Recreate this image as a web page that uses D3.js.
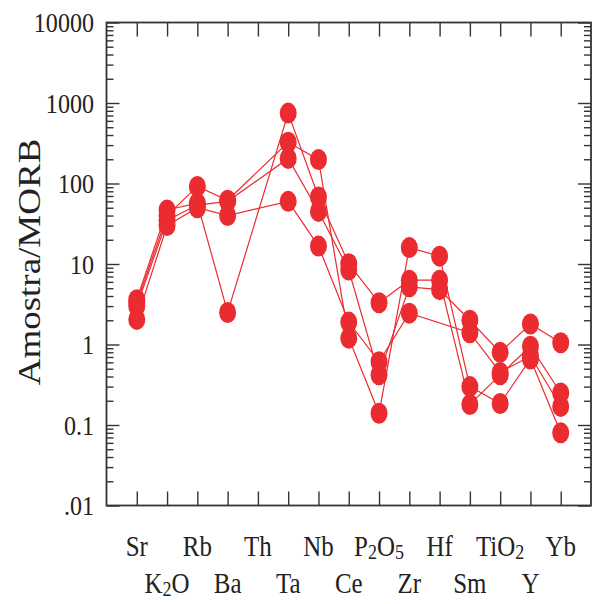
<!DOCTYPE html>
<html>
<head>
<meta charset="utf-8">
<script src="https://cdn.jsdelivr.net/npm/d3@7"></script>
<style>
  body { margin: 0; background: #fff; }
  svg text { font-family: "Liberation Serif", "Times New Roman", serif; fill: #222; }
</style>
</head>
<body>
<svg id="chart" width="601" height="604"></svg>
<script>
// elements (x categories) and their printed labels; [text, subscript] pairs
var elements = ["Sr","K2O","Rb","Ba","Th","Ta","Nb","Ce","P2O5","Zr","Hf","Sm","TiO2","Y","Yb"];
var elementLabels = [
  [["Sr",""]], [["K","2"],["O",""]], [["Rb",""]], [["Ba",""]], [["Th",""]], [["Ta",""]],
  [["Nb",""]], [["Ce",""]], [["P","2"],["O","5"]], [["Zr",""]], [["Hf",""]], [["Sm",""]],
  [["TiO","2"]], [["Y",""]], [["Yb",""]]
];
var yTicks = [0.01, 0.1, 1, 10, 100, 1000, 10000];
var yTickLabels = [".01", "0.1", "1", "10", "100", "1000", "10000"];

// sample / MORB ratios, null = not analysed
var sampleA = [3.6, 47, 57, 2.5, null, 750, 68, 10.1, 3.3, 6.3, 6.3, 0.18, 0.42, 0.95, 0.25];
var sampleB = [3.3, 40, 92, 62, null, 325, 198, 1.2, 0.14, 16, 12.5, 0.30, 0.185, 0.66, 0.08];
var sampleC = [3.0, 35, 54, 60, null, 205, 45, 8.4, 0.42, 5.2, 4.8, 2.0, 0.80, 1.8, 1.05];
var sampleD = [2.05, 30, 50, 40, null, 60, 16.7, 1.9, 0.61, 2.45, null, 1.4, 0.45, 0.72, 0.17];
var samples = [sampleA, sampleB, sampleC, sampleD];

var red = "#ea2b2f";
var axisColor = "#333";
var sx = 0.86; // text is drawn a little narrow, like the original

var plot = { left: 106.5, top: 22.5, right: 591, bottom: 505.5 };

var svg = d3.select("#chart");

var x = d3.scalePoint()
  .domain(elements)
  .range([plot.left, plot.right])
  .padding(1);

var y = d3.scaleLog()
  .domain([0.01, 10000])
  .range([plot.bottom, plot.top]);

// minor ticks 2..9 of every decade
var minorTicks = [];
for (var i = 0; i < yTicks.length - 1; i++) {
  for (var k = 2; k <= 9; k++) minorTicks.push(yTicks[i] * k);
}

function styleAxis(g) {
  g.select(".domain").remove();
  g.selectAll("line").attr("stroke", axisColor).attr("stroke-width", 1.4);
  g.selectAll("text").remove();
}

// left / right axes, ticks pointing inward
svg.append("g").attr("transform", "translate(" + plot.left + ",0)")
  .call(d3.axisLeft(y).tickValues(yTicks).tickSize(-13)).call(styleAxis);
svg.append("g").attr("transform", "translate(" + plot.left + ",0)")
  .call(d3.axisLeft(y).tickValues(minorTicks).tickSize(-7)).call(styleAxis);
svg.append("g").attr("transform", "translate(" + plot.right + ",0)")
  .call(d3.axisRight(y).tickValues(yTicks).tickSize(-13)).call(styleAxis);
svg.append("g").attr("transform", "translate(" + plot.right + ",0)")
  .call(d3.axisRight(y).tickValues(minorTicks).tickSize(-7)).call(styleAxis);

// top / bottom axes
svg.append("g").attr("transform", "translate(0," + plot.bottom + ")")
  .call(d3.axisBottom(x).tickSize(-14)).call(styleAxis);
svg.append("g").attr("transform", "translate(0," + plot.top + ")")
  .call(d3.axisTop(x).tickSize(-14)).call(styleAxis);

// frame
svg.append("rect")
  .attr("x", plot.left).attr("y", plot.top)
  .attr("width", plot.right - plot.left).attr("height", plot.bottom - plot.top)
  .attr("fill", "none").attr("stroke", axisColor).attr("stroke-width", 1.8);

// y tick labels
svg.selectAll(".ylab").data(yTicks).enter().append("g")
  .attr("class", "ylab")
  .attr("transform", function (d) { return "translate(94," + y(d) + ") scale(" + sx + ",1)"; })
  .append("text")
  .attr("text-anchor", "end")
  .attr("dy", "0.34em")
  .style("font-size", "28px")
  .text(function (d, i) { return yTickLabels[i]; });

// y title
svg.append("g")
  .attr("transform", "translate(40,262) rotate(-90) scale(1," + sx + ")")
  .append("text")
  .attr("text-anchor", "middle")
  .style("font-size", "37px")
  .text("Amostra/MORB");

// x labels, alternating rows
var xl = svg.selectAll(".xlab").data(elements).enter().append("g")
  .attr("class", "xlab")
  .attr("transform", function (d, i) {
    return "translate(" + x(d) + "," + (i % 2 === 0 ? 556 : 593) + ") scale(" + sx + ",1)";
  })
  .append("text")
  .attr("text-anchor", "middle")
  .style("font-size", "29px");

xl.each(function (d, i) {
  var t = d3.select(this);
  var shift = 0;
  elementLabels[i].forEach(function (part) {
    t.append("tspan").attr("dy", -shift).text(part[0]);
    shift = 0;
    if (part[1]) {
      t.append("tspan").attr("dy", 3).style("font-size", "21px").text(part[1]);
      shift = 3;
    }
  });
});

// lines: skip missing values and join the remaining points
var line = d3.line()
  .x(function (d) { return x(d.el); })
  .y(function (d) { return y(d.v); });

samples.forEach(function (s) {
  var pts = s.map(function (v, i) { return { el: elements[i], v: v }; })
    .filter(function (d) { return d.v != null; });
  svg.append("path")
    .datum(pts)
    .attr("d", line)
    .attr("fill", "none")
    .attr("stroke", red)
    .attr("stroke-width", 1.2);
});

// markers on top
samples.forEach(function (s) {
  var pts = s.map(function (v, i) { return { el: elements[i], v: v }; })
    .filter(function (d) { return d.v != null; });
  svg.append("g").selectAll("ellipse").data(pts).enter().append("ellipse")
    .attr("cx", function (d) { return x(d.el); })
    .attr("cy", function (d) { return y(d.v); })
    .attr("rx", 8.5)
    .attr("ry", 10.5)
    .attr("fill", red);
});
</script>
</body>
</html>
